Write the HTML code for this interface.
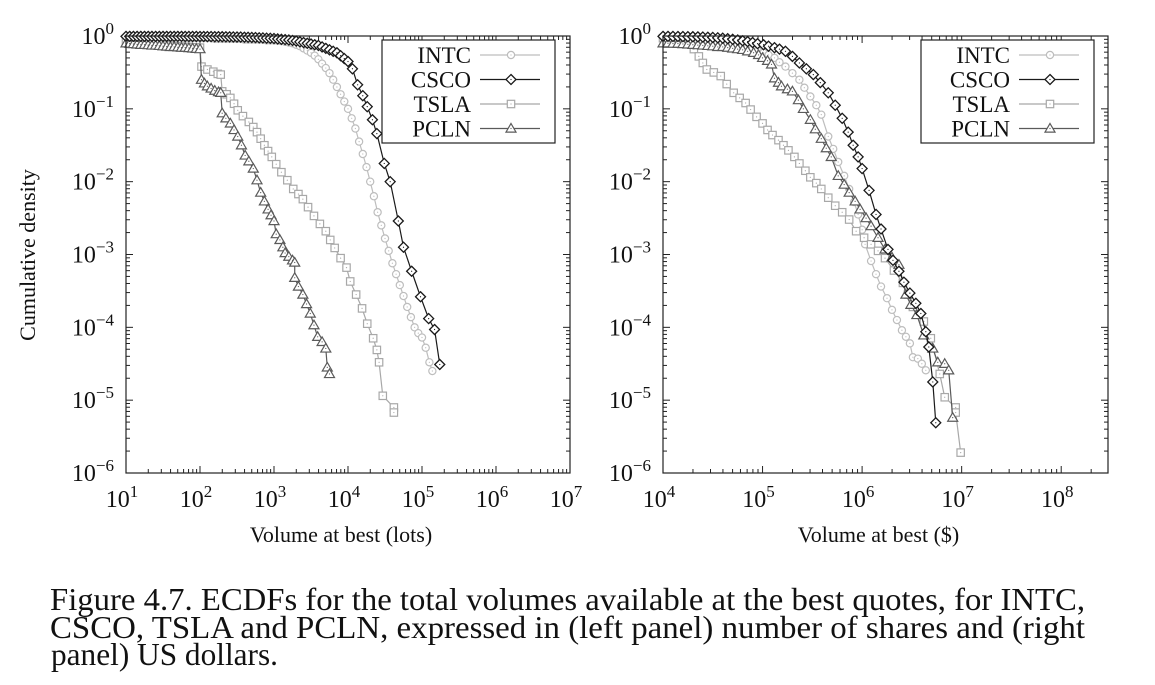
<!DOCTYPE html>
<html><head><meta charset="utf-8"><style>
html,body{margin:0;padding:0;background:#fff;}
svg{display:block;}
svg text{font-family:"Liberation Serif",serif;}
</style></head><body>
<svg id="fig" width="1155" height="685" viewBox="0 0 1155 685" xmlns="http://www.w3.org/2000/svg" font-family="Liberation Serif, serif">
<g font-size="32" fill="#111" font-family="Liberation Serif, serif">
<text x="50" y="610" textLength="1035" lengthAdjust="spacingAndGlyphs">Figure 4.7.  ECDFs for the total volumes available at the best quotes, for INTC,</text>
<text x="50" y="638" textLength="1035" lengthAdjust="spacingAndGlyphs">CSCO, TSLA and PCLN, expressed in (left panel) number of shares and (right</text>
<text x="51" y="665" textLength="227" lengthAdjust="spacingAndGlyphs">panel) US dollars.</text>
</g>
</svg>
<script>
// ---- Left panel data (log10 values) ----
const leftIntcLX=[1.0,1.05,1.1,1.15,1.2,1.25,1.3,1.35,1.4,1.45,1.5,1.55,1.6,1.65,1.7,1.75,1.8,1.85,1.9,1.95,2.0,2.05,2.1,2.15,2.2,2.25,2.3,2.35,2.4,2.45,2.5,2.55,2.6,2.65,2.7,2.75,2.8,2.85,2.9,2.95,3.0,3.05,3.1,3.15,3.2,3.25,3.3,3.35,3.4,3.45,3.5,3.55,3.6,3.65,3.7,3.75,3.8,3.85,3.9,3.95,4.0,4.05,4.1,4.15,4.2,4.25,4.3,4.35,4.4,4.45,4.5,4.55,4.6,4.65,4.7,4.75,4.8,4.85,4.9,4.95,5.0,5.05,5.1,5.14];
const leftIntcLY=[-0.01,-0.01,-0.01,-0.01,-0.01,-0.01,-0.01,-0.01,-0.02,-0.02,-0.02,-0.02,-0.02,-0.02,-0.02,-0.02,-0.03,-0.03,-0.03,-0.03,-0.03,-0.03,-0.03,-0.03,-0.04,-0.04,-0.04,-0.04,-0.04,-0.04,-0.04,-0.04,-0.05,-0.05,-0.05,-0.05,-0.05,-0.05,-0.06,-0.06,-0.06,-0.065,-0.07,-0.08,-0.09,-0.1,-0.12,-0.14,-0.17,-0.2,-0.23,-0.27,-0.32,-0.38,-0.44,-0.51,-0.6,-0.7,-0.8,-0.9,-1.0,-1.13,-1.27,-1.45,-1.62,-1.8,-2.0,-2.2,-2.42,-2.6,-2.78,-2.95,-3.12,-3.27,-3.42,-3.57,-3.72,-3.86,-4.0,-4.08,-4.14,-4.28,-4.48,-4.6];
const leftCscoLX=[1.0,1.05,1.1,1.15,1.2,1.25,1.3,1.35,1.4,1.45,1.5,1.55,1.6,1.65,1.7,1.75,1.8,1.85,1.9,1.95,2.0,2.05,2.1,2.15,2.2,2.25,2.3,2.35,2.4,2.45,2.5,2.55,2.6,2.65,2.7,2.75,2.8,2.85,2.9,2.95,3.0,3.05,3.1,3.15,3.2,3.25,3.3,3.35,3.4,3.45,3.5,3.55,3.6,3.65,3.7,3.75,3.8,3.85,3.9,3.95,4.0,4.06,4.13,4.2,4.26,4.33,4.39,4.49,4.57,4.68,4.75,4.86,4.98,5.09,5.17,5.24];
const leftCscoLY=[-0.005,-0.005,-0.005,-0.005,-0.005,-0.005,-0.005,-0.005,-0.005,-0.005,-0.005,-0.005,-0.005,-0.005,-0.005,-0.005,-0.006,-0.006,-0.006,-0.006,-0.007,-0.007,-0.008,-0.008,-0.009,-0.009,-0.01,-0.011,-0.012,-0.013,-0.014,-0.015,-0.017,-0.018,-0.02,-0.022,-0.025,-0.027,-0.03,-0.032,-0.035,-0.04,-0.045,-0.05,-0.055,-0.062,-0.07,-0.08,-0.09,-0.1,-0.11,-0.12,-0.13,-0.15,-0.17,-0.19,-0.21,-0.23,-0.27,-0.31,-0.35,-0.45,-0.67,-0.82,-0.97,-1.15,-1.34,-1.75,-2.0,-2.54,-2.9,-3.23,-3.58,-3.88,-4.03,-4.51];
const leftTslaLX=[1.0,1.05,1.1,1.15,1.2,1.25,1.3,1.35,1.4,1.45,1.5,1.55,1.6,1.65,1.7,1.75,1.8,1.85,1.9,1.95,2.0,2.02,2.1,2.18,2.24,2.28,2.3,2.36,2.41,2.46,2.51,2.58,2.66,2.72,2.77,2.82,2.87,2.92,2.97,3.03,3.1,3.18,3.26,3.33,3.39,3.46,3.54,3.62,3.7,3.76,3.82,3.9,3.98,4.03,4.11,4.19,4.26,4.34,4.39,4.42,4.47,4.62,4.62];
const leftTslaLY=[-0.07,-0.075,-0.08,-0.085,-0.09,-0.095,-0.1,-0.105,-0.11,-0.115,-0.12,-0.125,-0.13,-0.135,-0.14,-0.145,-0.15,-0.15,-0.155,-0.155,-0.16,-0.42,-0.46,-0.49,-0.52,-0.53,-0.76,-0.8,-0.85,-0.93,-1.02,-1.1,-1.18,-1.25,-1.32,-1.41,-1.5,-1.58,-1.66,-1.76,-1.87,-1.98,-2.1,-2.17,-2.24,-2.35,-2.47,-2.58,-2.68,-2.8,-2.91,-3.05,-3.18,-3.37,-3.55,-3.74,-3.95,-4.15,-4.31,-4.48,-4.94,-5.1,-5.17];
const leftPclnLX=[1.0,1.05,1.1,1.15,1.2,1.25,1.3,1.35,1.4,1.45,1.5,1.55,1.6,1.65,1.7,1.75,1.8,1.85,1.9,1.95,2.0,2.02,2.06,2.1,2.15,2.2,2.25,2.28,2.3,2.35,2.41,2.46,2.51,2.56,2.61,2.66,2.72,2.77,2.82,2.87,2.92,2.96,3.0,3.03,3.08,3.12,3.15,3.2,3.25,3.28,3.28,3.33,3.39,3.44,3.49,3.54,3.59,3.65,3.7,3.72,3.75];
const leftPclnLY=[-0.1,-0.105,-0.11,-0.115,-0.12,-0.12,-0.125,-0.13,-0.13,-0.135,-0.14,-0.145,-0.15,-0.15,-0.155,-0.16,-0.16,-0.165,-0.17,-0.175,-0.18,-0.6,-0.65,-0.69,-0.72,-0.75,-0.77,-0.78,-1.06,-1.13,-1.2,-1.29,-1.38,-1.5,-1.64,-1.72,-1.82,-1.98,-2.15,-2.27,-2.38,-2.46,-2.54,-2.72,-2.8,-2.9,-2.98,-3.03,-3.08,-3.11,-3.32,-3.44,-3.55,-3.68,-3.81,-3.97,-4.13,-4.2,-4.29,-4.55,-4.64];
// ---- Right panel data ----
const rightIntcLX=[4.0,4.05,4.1,4.15,4.2,4.25,4.3,4.35,4.4,4.45,4.5,4.55,4.6,4.65,4.7,4.75,4.8,4.85,4.9,4.95,5.01,5.06,5.12,5.17,5.23,5.3,5.37,5.42,5.48,5.54,5.59,5.66,5.71,5.76,5.82,5.87,5.92,5.96,6.0,6.03,6.09,6.14,6.19,6.25,6.3,6.35,6.4,6.44,6.48,6.51,6.56,6.6,6.64];
const rightIntcLY=[-0.03,-0.03,-0.035,-0.035,-0.04,-0.045,-0.05,-0.055,-0.06,-0.065,-0.07,-0.08,-0.09,-0.1,-0.11,-0.12,-0.14,-0.16,-0.18,-0.2,-0.23,-0.26,-0.3,-0.36,-0.42,-0.51,-0.6,-0.71,-0.83,-0.95,-1.08,-1.38,-1.55,-1.73,-1.92,-2.1,-2.28,-2.45,-2.66,-2.86,-3.09,-3.27,-3.44,-3.6,-3.76,-3.9,-4.04,-4.13,-4.22,-4.41,-4.43,-4.5,-4.59];
const rightCscoLX=[4.0,4.05,4.1,4.15,4.2,4.25,4.3,4.35,4.4,4.45,4.5,4.55,4.6,4.65,4.7,4.75,4.8,4.85,4.9,4.95,5.01,5.06,5.12,5.17,5.23,5.3,5.37,5.44,5.51,5.58,5.66,5.73,5.8,5.86,5.91,5.96,6.0,6.07,6.14,6.19,6.26,6.31,6.37,6.42,6.48,6.54,6.59,6.64,6.67,6.71,6.74];
const rightCscoLY=[-0.005,-0.005,-0.006,-0.007,-0.008,-0.009,-0.01,-0.012,-0.015,-0.017,-0.02,-0.025,-0.03,-0.037,-0.045,-0.055,-0.065,-0.077,-0.09,-0.105,-0.12,-0.14,-0.16,-0.18,-0.21,-0.28,-0.37,-0.45,-0.53,-0.64,-0.78,-0.95,-1.13,-1.32,-1.5,-1.66,-1.82,-2.12,-2.45,-2.65,-2.93,-3.08,-3.23,-3.38,-3.53,-3.67,-3.81,-4.06,-4.27,-4.75,-5.31];
const rightTslaLX=[4.0,4.04,4.08,4.12,4.16,4.21,4.26,4.31,4.36,4.4,4.44,4.51,4.58,4.64,4.71,4.77,4.83,4.88,4.94,5.0,5.05,5.1,5.16,5.21,5.26,5.32,5.37,5.43,5.48,5.54,5.59,5.66,5.73,5.8,5.87,5.94,6.02,6.09,6.16,6.23,6.32,6.41,6.46,6.51,6.57,6.62,6.69,6.78,6.83,6.94,6.94,6.99];
const rightTslaLY=[-0.03,-0.035,-0.04,-0.045,-0.05,-0.06,-0.07,-0.18,-0.28,-0.37,-0.46,-0.5,-0.55,-0.66,-0.78,-0.85,-0.92,-1.01,-1.11,-1.2,-1.29,-1.36,-1.43,-1.5,-1.57,-1.66,-1.75,-1.85,-1.94,-2.02,-2.1,-2.22,-2.33,-2.42,-2.52,-2.68,-2.77,-2.86,-2.95,-3.05,-3.22,-3.39,-3.55,-3.72,-3.82,-3.92,-4.15,-4.64,-4.96,-5.1,-5.17,-5.72];
const rightPclnLX=[4.0,4.05,4.1,4.15,4.2,4.25,4.3,4.35,4.4,4.45,4.5,4.55,4.6,4.65,4.7,4.75,4.8,4.85,4.91,4.96,5.0,5.05,5.09,5.12,5.16,5.19,5.25,5.3,5.36,5.41,5.48,5.53,5.59,5.64,5.69,5.76,5.82,5.87,5.93,5.98,6.04,6.09,6.16,6.23,6.3,6.37,6.44,6.49,6.55,6.62,6.71,6.76,6.83,6.87,6.91];
const rightPclnLY=[-0.1,-0.1,-0.105,-0.105,-0.11,-0.115,-0.12,-0.125,-0.13,-0.135,-0.14,-0.15,-0.15,-0.16,-0.17,-0.18,-0.19,-0.21,-0.23,-0.26,-0.3,-0.34,-0.39,-0.58,-0.64,-0.69,-0.73,-0.76,-0.88,-1.0,-1.15,-1.28,-1.41,-1.54,-1.66,-1.92,-2.04,-2.15,-2.27,-2.38,-2.5,-2.61,-2.77,-2.93,-3.04,-3.14,-3.55,-3.69,-3.83,-4.11,-4.29,-4.48,-4.5,-4.59,-5.24];
// ---- Axis tick values ----
const leftXTickExps=[1,2,3,4,5,6,7];
const rightXTickExps=[4,5,6,7,8];
const yTickExps=[0,-1,-2,-3,-4,-5,-6];
const seriesNames=["INTC","CSCO","TSLA","PCLN"];

const NS="http://www.w3.org/2000/svg";
const FONT="Liberation Serif, serif";
const svg=document.getElementById('fig');
function mk(tag,attrs,parent){const e=document.createElementNS(NS,tag);for(const k in attrs)e.setAttribute(k,attrs[k]);(parent||svg).appendChild(e);return e;}

const styles={
 INTC:{stroke:"#bdbdbd",marker:"circle",lw:1.2},
 CSCO:{stroke:"#1a1a1a",marker:"diamond",lw:1.2},
 TSLA:{stroke:"#a8a8a8",marker:"square",lw:1.2},
 PCLN:{stroke:"#5a5a5a",marker:"triangle",lw:1.2}
};

function marker(g,type,x,y,color){
  let m;
  if(type==="circle") m=mk('circle',{cx:x,cy:y,r:3.6,fill:"#fff",stroke:color,'stroke-width':1.2},g);
  else if(type==="diamond") m=mk('path',{d:`M${x} ${y-5}L${x+5} ${y}L${x} ${y+5}L${x-5} ${y}Z`,fill:"#fff",stroke:color,'stroke-width':1.3},g);
  else if(type==="square") m=mk('rect',{x:x-3.7,y:y-3.7,width:7.4,height:7.4,fill:"#fff",stroke:color,'stroke-width':1.2},g);
  else m=mk('path',{d:`M${x} ${y-5}L${x+5} ${y+3.6}L${x-5} ${y+3.6}Z`,fill:"#fff",stroke:color,'stroke-width':1.2},g);
  
  
  mk('circle',{cx:x,cy:y,r:0.6,fill:color},g);
}

function panel(o){
  const {name,left,right,top,bottom,xmin,xmax,xticks,xlabel,series,legend}=o;
  const ymin=-6,ymax=0;
  const sx=v=>left+(v-xmin)/(xmax-xmin)*(right-left);
  const sy=v=>top+(ymax-v)/(ymax-ymin)*(bottom-top);
  const g=mk('g',{'font-family':FONT});  
  const tg=mk('g',{stroke:"#222",'stroke-width':1},g);
  for(let e=Math.floor(xmin);e<=Math.ceil(xmax);e++){
    for(let k=1;k<10;k++){
      const v=e+Math.log10(k); if(v<xmin-1e-9||v>xmax+1e-9) continue;
      const x=sx(v), L=k===1?7:4;
      mk('line',{x1:x,y1:bottom,x2:x,y2:bottom-L},tg);
      mk('line',{x1:x,y1:top,x2:x,y2:top+L},tg);
    }
  }
  for(let e=-6;e<0;e++){
    for(let k=1;k<10;k++){
      const y=sy(e+Math.log10(k)), L=k===1?7:4;
      mk('line',{x1:left,y1:y,x2:left+L,y2:y},tg);
      mk('line',{x1:right,y1:y,x2:right-L,y2:y},tg);
    }
  }
  xticks.forEach(e=>{
    const t=mk('text',{x:sx(e)-4,y:bottom+34,'text-anchor':'middle','font-size':24,fill:"#111",'font-family':FONT},g);
    
    
    t.textContent="10";
    const s=mk('tspan',{dy:-10,'font-size':17},t); s.textContent=String(e);
  });
  yTickExps.forEach(e=>{
    const t=mk('text',{x:left-12,y:sy(e)+8,'text-anchor':'end','font-size':24,fill:"#111",'font-family':FONT},g);
    
    
    t.textContent="10";
    const s=mk('tspan',{dy:-10,'font-size':17},t); s.textContent=e===0?"0":"\u2212"+(-e);
  });
  series.forEach(s=>{
    const st=styles[s.name];
    const sg=mk('g',{},g);
    
    
    const pts=s.lx.map((v,i)=>[sx(v),sy(s.ly[i])]);
    const pl=mk('polyline',{points:pts.map(p=>p.join(',')).join(' '),fill:"none",stroke:st.stroke,'stroke-width':st.lw},sg);
    
    
    pts.forEach(p=>marker(sg,st.marker,p[0],p[1],st.stroke));
  });
  const fr=mk('rect',{x:left,y:top,width:right-left,height:bottom-top,fill:"none",stroke:"#222",'stroke-width':1.2},g);
  
  
  const lg=mk('g',{},g);
  
  
  mk('rect',{x:legend.x,y:legend.y,width:legend.w,height:103,fill:"#fff",stroke:"#222",'stroke-width':1.2},lg);
  seriesNames.forEach((n,i)=>{
    const y=legend.y+15+i*24.5;
    const st=styles[n];
    const eg=mk('g',{},lg);
    
    
    const t=mk('text',{x:legend.x+89,y:y+8,'text-anchor':'end','font-size':23,fill:"#111",'font-family':FONT},eg);
    t.textContent=n;
    mk('line',{x1:legend.x+98,y1:y,x2:legend.x+158,y2:y,stroke:st.stroke,'stroke-width':st.lw},eg);
    marker(eg,st.marker,legend.x+129,y,st.stroke);
  });
  const xl=mk('text',{x:(left+right)/2-7,y:bottom+69,'text-anchor':'middle','font-size':22,fill:"#111",'font-family':FONT},g);
  
  
  xl.textContent=xlabel;
}

panel({name:"left-panel",left:126,right:570,top:36,bottom:473,xmin:1,xmax:7,xticks:leftXTickExps,xlabel:"Volume at best (lots)",
  series:[{name:"INTC",lx:leftIntcLX,ly:leftIntcLY},{name:"TSLA",lx:leftTslaLX,ly:leftTslaLY},{name:"PCLN",lx:leftPclnLX,ly:leftPclnLY},{name:"CSCO",lx:leftCscoLX,ly:leftCscoLY}],
  legend:{x:382,y:40,w:173}});
panel({name:"right-panel",left:663,right:1108,top:36,bottom:473,xmin:4,xmax:8.47,xticks:rightXTickExps,xlabel:"Volume at best ($)",
  series:[{name:"INTC",lx:rightIntcLX,ly:rightIntcLY},{name:"TSLA",lx:rightTslaLX,ly:rightTslaLY},{name:"PCLN",lx:rightPclnLX,ly:rightPclnLY},{name:"CSCO",lx:rightCscoLX,ly:rightCscoLY}],
  legend:{x:921,y:40,w:173}});

const yl=mk('text',{x:35,y:255,'text-anchor':'middle','font-size':22,fill:"#111",'font-family':FONT,transform:"rotate(-90 35 255)"});


yl.textContent="Cumulative density";
</script>
</body></html>
